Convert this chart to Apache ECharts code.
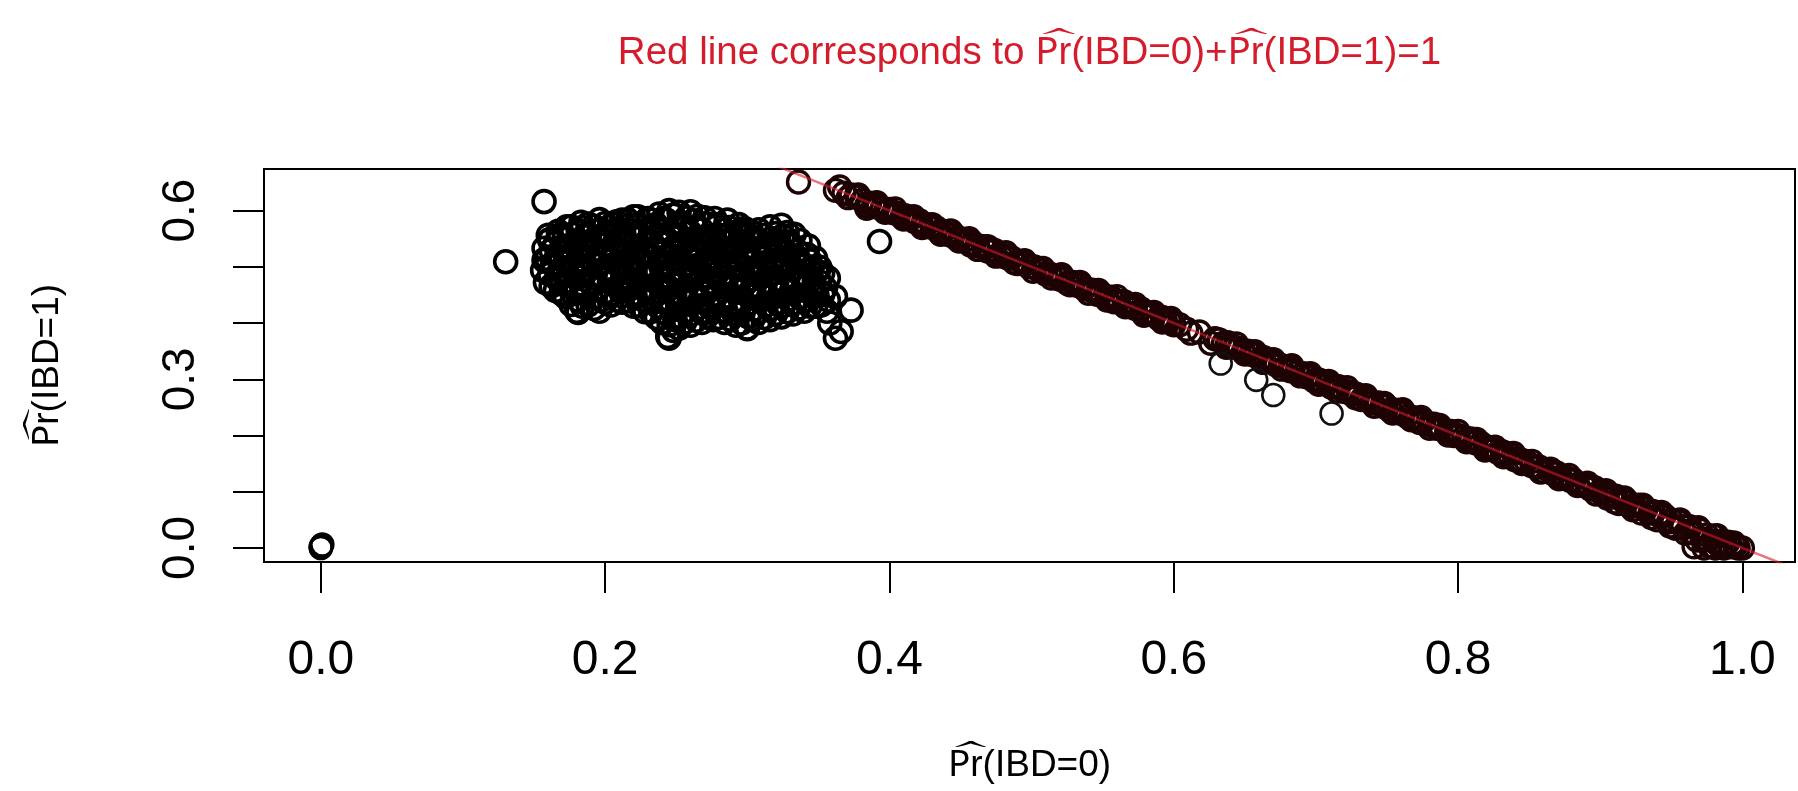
<!DOCTYPE html>
<html><head><meta charset="utf-8">
<script src="https://cdn.jsdelivr.net/npm/echarts@6/dist/echarts.min.js"></script>
<style>html,body{margin:0;padding:0;background:#fff}#chart{width:1798px;height:791px}</style>
</head><body><div id="chart"></div>
<script>
const titleText = 'Red line corresponds to P\u1DCDr(IBD=0)+P\u1DCDr(IBD=1)=1';
const xName = 'P\u1DCDr(IBD=0)';
const yName = 'P\u1DCDr(IBD=1)';
const xTicks = [0, 0.2, 0.4, 0.6, 0.8, 1.0];
const yTicks = [0, 0.1, 0.2, 0.3, 0.4, 0.5, 0.6];
const yLabels = [0, 0.3, 0.6];

const zeroPts = [[0,0],[0,0.003],[0.001,0.006],[0,0.001]];

const cloudPts = [
[0.158,0.472],[0.156,0.494],[0.159,0.515],[0.157,0.533],[0.160,0.556],
[0.165,0.458],[0.166,0.479],[0.164,0.501],[0.166,0.520],[0.165,0.542],[0.167,0.563],
[0.172,0.447],[0.173,0.466],[0.171,0.488],[0.172,0.507],[0.174,0.529],[0.171,0.550],[0.173,0.571],
[0.180,0.421],[0.181,0.441],[0.179,0.461],[0.181,0.482],[0.180,0.503],[0.182,0.524],[0.179,0.545],[0.181,0.565],[0.183,0.579],
[0.188,0.432],[0.187,0.452],[0.189,0.473],[0.188,0.494],[0.190,0.514],[0.187,0.535],[0.189,0.556],[0.188,0.576],
[0.196,0.421],[0.197,0.441],[0.195,0.462],[0.197,0.483],[0.196,0.503],[0.198,0.524],[0.195,0.545],[0.197,0.566],[0.196,0.584],
[0.204,0.432],[0.205,0.452],[0.203,0.473],[0.205,0.493],[0.204,0.514],[0.206,0.535],[0.203,0.555],[0.205,0.576],
[0.212,0.437],[0.211,0.457],[0.213,0.478],[0.212,0.498],[0.214,0.519],[0.211,0.540],[0.213,0.561],[0.212,0.583],
[0.220,0.430],[0.221,0.450],[0.219,0.471],[0.221,0.492],[0.220,0.512],[0.222,0.533],[0.219,0.554],[0.221,0.574],[0.220,0.589],
[0.228,0.420],[0.227,0.441],[0.229,0.461],[0.228,0.482],[0.230,0.503],[0.227,0.523],[0.229,0.544],[0.228,0.565],[0.230,0.586],
[0.236,0.410],[0.237,0.430],[0.235,0.451],[0.237,0.472],[0.236,0.492],[0.238,0.513],[0.235,0.534],[0.237,0.554],[0.236,0.575],[0.238,0.594],
[0.244,0.376],[0.245,0.397],[0.243,0.418],[0.245,0.438],[0.244,0.459],[0.246,0.480],[0.243,0.500],[0.245,0.521],[0.244,0.542],[0.246,0.562],[0.243,0.583],[0.245,0.600],
[0.252,0.391],[0.253,0.411],[0.251,0.432],[0.253,0.453],[0.252,0.473],[0.254,0.494],[0.251,0.515],[0.253,0.535],[0.252,0.556],[0.254,0.577],[0.252,0.597],
[0.260,0.396],[0.261,0.416],[0.259,0.437],[0.261,0.458],[0.260,0.478],[0.262,0.499],[0.259,0.520],[0.261,0.540],[0.260,0.561],[0.262,0.582],[0.260,0.598],
[0.268,0.401],[0.269,0.421],[0.267,0.442],[0.269,0.463],[0.268,0.483],[0.270,0.504],[0.267,0.525],[0.269,0.545],[0.268,0.566],[0.270,0.587],
[0.276,0.406],[0.275,0.426],[0.277,0.447],[0.276,0.468],[0.278,0.488],[0.275,0.509],[0.277,0.530],[0.276,0.550],[0.278,0.571],[0.277,0.586],
[0.284,0.401],[0.285,0.421],[0.283,0.442],[0.285,0.463],[0.284,0.483],[0.286,0.504],[0.283,0.525],[0.285,0.545],[0.284,0.566],[0.286,0.583],
[0.292,0.396],[0.293,0.416],[0.291,0.437],[0.293,0.458],[0.292,0.478],[0.294,0.499],[0.291,0.520],[0.293,0.540],[0.292,0.561],[0.294,0.575],
[0.300,0.391],[0.301,0.411],[0.299,0.432],[0.301,0.453],[0.300,0.473],[0.302,0.494],[0.299,0.515],[0.301,0.535],[0.300,0.556],[0.298,0.568],
[0.308,0.401],[0.309,0.421],[0.307,0.442],[0.309,0.463],[0.308,0.483],[0.310,0.504],[0.307,0.525],[0.309,0.545],[0.308,0.566],
[0.316,0.406],[0.317,0.426],[0.315,0.447],[0.317,0.468],[0.316,0.488],[0.318,0.509],[0.315,0.530],[0.317,0.550],[0.316,0.571],
[0.324,0.411],[0.325,0.431],[0.323,0.452],[0.325,0.473],[0.324,0.493],[0.326,0.514],[0.323,0.535],[0.325,0.555],[0.324,0.574],
[0.332,0.416],[0.333,0.436],[0.331,0.457],[0.333,0.478],[0.332,0.498],[0.334,0.519],[0.331,0.540],[0.333,0.558],
[0.340,0.421],[0.341,0.441],[0.339,0.462],[0.341,0.483],[0.340,0.503],[0.342,0.522],[0.343,0.537],
[0.348,0.430],[0.349,0.450],[0.347,0.471],[0.349,0.492],[0.351,0.499],[0.348,0.515],
[0.356,0.421],[0.357,0.441],[0.355,0.462],[0.357,0.480],[0.358,0.400],
[0.362,0.447],[0.362,0.373],[0.373,0.423],[0.366,0.385],[0.297,0.566],[0.300,0.390],[0.245,0.373],
[0.181,0.419],[0.170,0.453],[0.157,0.512],[0.161,0.548],[0.157,0.616],[0.130,0.509],[0.393,0.545]
];

const cloudPts2 = [
[0.162,0.466],[0.161,0.487],[0.163,0.506],[0.162,0.529],[0.161,0.548],
[0.169,0.453],[0.170,0.471],[0.168,0.494],[0.169,0.513],[0.170,0.536],[0.168,0.555],
[0.176,0.433],[0.177,0.452],[0.175,0.474],[0.177,0.493],[0.176,0.516],[0.175,0.535],[0.177,0.558],[0.176,0.571],
[0.184,0.430],[0.185,0.452],[0.183,0.470],[0.185,0.493],[0.184,0.512],[0.183,0.535],[0.185,0.554],[0.184,0.570],
[0.192,0.426],[0.193,0.446],[0.191,0.468],[0.193,0.487],[0.192,0.510],[0.191,0.529],[0.193,0.551],[0.192,0.572],
[0.200,0.437],[0.201,0.456],[0.199,0.479],[0.201,0.497],[0.200,0.520],[0.199,0.539],[0.201,0.562],[0.200,0.577],
[0.208,0.441],[0.209,0.463],[0.207,0.482],[0.209,0.504],[0.208,0.523],[0.207,0.546],[0.209,0.565],[0.208,0.580],
[0.216,0.440],[0.217,0.460],[0.215,0.482],[0.217,0.501],[0.216,0.524],[0.215,0.543],[0.217,0.565],[0.216,0.583],
[0.224,0.431],[0.225,0.450],[0.223,0.472],[0.225,0.491],[0.224,0.514],[0.223,0.533],[0.225,0.555],[0.224,0.574],[0.223,0.589],
[0.232,0.420],[0.233,0.442],[0.231,0.460],[0.233,0.483],[0.232,0.502],[0.231,0.524],[0.233,0.543],[0.232,0.566],[0.231,0.584],
[0.240,0.401],[0.241,0.419],[0.239,0.442],[0.241,0.461],[0.240,0.483],[0.239,0.502],[0.241,0.525],[0.240,0.543],[0.239,0.566],[0.241,0.586],
[0.248,0.387],[0.249,0.406],[0.247,0.429],[0.249,0.447],[0.248,0.470],[0.247,0.489],[0.249,0.511],[0.248,0.530],[0.247,0.553],[0.249,0.571],[0.248,0.592],
[0.256,0.402],[0.257,0.420],[0.255,0.443],[0.257,0.462],[0.256,0.484],[0.255,0.503],[0.257,0.526],[0.256,0.544],[0.255,0.567],[0.257,0.587],
[0.264,0.405],[0.265,0.427],[0.263,0.446],[0.265,0.469],[0.264,0.487],[0.263,0.510],[0.265,0.529],[0.264,0.551],[0.263,0.570],[0.265,0.590],
[0.272,0.412],[0.273,0.430],[0.271,0.453],[0.273,0.472],[0.272,0.494],[0.271,0.513],[0.273,0.536],[0.272,0.554],[0.271,0.577],
[0.280,0.410],[0.281,0.432],[0.279,0.451],[0.281,0.474],[0.280,0.492],[0.279,0.515],[0.281,0.534],[0.280,0.556],[0.279,0.575],
[0.288,0.407],[0.289,0.425],[0.287,0.448],[0.289,0.467],[0.288,0.489],[0.287,0.508],[0.289,0.531],[0.288,0.549],[0.287,0.570],
[0.296,0.400],[0.297,0.422],[0.295,0.441],[0.297,0.464],[0.296,0.482],[0.295,0.505],[0.297,0.524],[0.296,0.546],[0.295,0.564],
[0.304,0.407],[0.305,0.425],[0.303,0.448],[0.305,0.467],[0.304,0.489],[0.303,0.508],[0.305,0.531],[0.304,0.549],[0.303,0.562],
[0.312,0.410],[0.313,0.432],[0.311,0.451],[0.313,0.474],[0.312,0.492],[0.311,0.515],[0.313,0.534],[0.312,0.556],
[0.320,0.417],[0.321,0.435],[0.319,0.458],[0.321,0.477],[0.320,0.499],[0.319,0.518],[0.321,0.541],[0.320,0.559],
[0.328,0.420],[0.329,0.442],[0.327,0.461],[0.329,0.484],[0.328,0.502],[0.327,0.525],[0.329,0.544],[0.328,0.561],
[0.336,0.427],[0.337,0.445],[0.335,0.468],[0.337,0.487],[0.336,0.509],[0.335,0.528],[0.337,0.547],
[0.344,0.430],[0.345,0.452],[0.343,0.471],[0.345,0.494],[0.344,0.511],
[0.352,0.432],[0.353,0.451],[0.351,0.473],[0.353,0.489]
];

const diagPts = [
[0.336,0.651],[0.362,0.636],[0.368,0.631],[0.373,0.628],[0.377,0.624],[0.381,0.618],[0.384,0.604],[0.386,0.613],
[0.389,0.611],[0.392,0.606],[0.395,0.604],[0.398,0.600],
[0.400,0.602],[0.403,0.596],[0.406,0.595],[0.409,0.588],[0.411,0.591],[0.414,0.586],[0.418,0.580],[0.421,0.582],
[0.423,0.573],[0.426,0.575],[0.430,0.570],[0.433,0.569],[0.435,0.562],[0.438,0.563],[0.442,0.557],[0.445,0.558],
[0.447,0.551],[0.450,0.550],[0.454,0.548],[0.457,0.539],[0.459,0.542],[0.462,0.537],[0.466,0.536],[0.469,0.528],
[0.471,0.529],[0.474,0.529],[0.478,0.520],[0.481,0.520],[0.483,0.516],[0.486,0.516],[0.490,0.506],[0.493,0.508],
[0.495,0.505],[0.498,0.500],
[0.502,0.500],[0.505,0.494],[0.508,0.495],[0.510,0.487],[0.513,0.487],[0.517,0.484],[0.520,0.478],[0.522,0.480],
[0.525,0.471],[0.529,0.472],[0.532,0.467],[0.534,0.469],[0.537,0.461],[0.541,0.459],[0.544,0.458],[0.546,0.451],
[0.549,0.452],[0.553,0.446],[0.556,0.446],[0.558,0.438],[0.561,0.439],[0.565,0.438],[0.568,0.430],[0.570,0.431],
[0.573,0.426],[0.577,0.425],[0.580,0.417],[0.582,0.418],[0.585,0.416],[0.589,0.409],[0.592,0.410],[0.594,0.405],
[0.597,0.404],[0.600,0.397],
[0.604,0.397],[0.609,0.389],[0.612,0.382],[0.618,0.384],[0.626,0.364],[0.629,0.372],
[0.632,0.370],[0.635,0.364],[0.638,0.365],[0.640,0.358],[0.643,0.357],[0.646,0.355],[0.649,0.348],[0.652,0.350],
[0.655,0.344],[0.658,0.343],[0.661,0.335],[0.663,0.339],[0.667,0.332],[0.670,0.333],[0.672,0.326],[0.675,0.325],
[0.679,0.322],[0.682,0.315],[0.684,0.318],[0.687,0.312],[0.691,0.310],[0.694,0.304],[0.696,0.307],[0.699,0.297],
[0.702,0.299],[0.705,0.294],[0.708,0.294],[0.711,0.286],[0.713,0.287],[0.716,0.287],[0.720,0.278],[0.723,0.278],
[0.725,0.274],[0.728,0.274],[0.732,0.264],[0.735,0.266],[0.737,0.263],[0.740,0.258],[0.744,0.258],[0.747,0.252],
[0.749,0.254],[0.752,0.245],[0.756,0.245],[0.759,0.240],[0.761,0.241],[0.764,0.234],[0.768,0.232],[0.771,0.230],
[0.773,0.223],[0.776,0.226],[0.780,0.219],[0.783,0.220],[0.785,0.213],[0.788,0.213],[0.792,0.207],[0.795,0.207],
[0.797,0.200],[0.800,0.200],
[0.804,0.197],[0.807,0.191],[0.809,0.194],[0.812,0.187],[0.816,0.186],[0.819,0.177],[0.821,0.179],[0.824,0.177],
[0.828,0.170],[0.831,0.171],[0.833,0.166],[0.836,0.167],[0.840,0.157],[0.843,0.158],[0.845,0.154],[0.848,0.154],
[0.852,0.146],[0.855,0.145],[0.857,0.144],[0.860,0.136],[0.864,0.138],[0.867,0.132],[0.869,0.134],[0.872,0.126],
[0.876,0.125],[0.879,0.120],[0.881,0.121],[0.884,0.113],[0.888,0.112],[0.891,0.110],[0.893,0.105],[0.896,0.107],
[0.900,0.099],
[0.903,0.099],[0.905,0.089],[0.908,0.091],[0.911,0.092],[0.913,0.079],[0.916,0.084],[0.919,0.083],[0.921,0.074],
[0.924,0.075],[0.927,0.076],[0.929,0.062],[0.932,0.069],[0.935,0.062],[0.937,0.065],[0.940,0.050],[0.942,0.057],
[0.945,0.058],[0.948,0.046],[0.950,0.050],[0.953,0.035],[0.955,0.047],[0.958,0.038],[0.960,0.026],[0.963,0.038],
[0.965,0.027],[0.968,0.014],[0.970,0.032],[0.972,0.016],[0.975,0.023],[0.977,0.003],[0.980,0.021],[0.982,0.008],
[0.985,0.012],[0.987,0.000],[0.990,0.010],[0.992,0.002],[0.995,0.003],[0.997,0.000],[1.000,0.000],
[0.966,0.002],[0.973,0.000],[0.981,0.000]
];

const diagPts2 = [
[0.365,0.642],[0.371,0.623],[0.378,0.628],[0.384,0.609],[0.391,0.614],[0.397,0.597],[0.404,0.603],[0.410,0.585],
[0.417,0.589],[0.423,0.570],[0.430,0.575],[0.436,0.558],[0.443,0.564],[0.449,0.546],[0.456,0.550],[0.462,0.531],
[0.469,0.536],[0.475,0.519],[0.482,0.525],[0.488,0.507],[0.495,0.511],[0.501,0.492],[0.508,0.497],[0.514,0.480],
[0.521,0.486],[0.527,0.468],[0.534,0.472],[0.540,0.453],[0.547,0.458],[0.553,0.441],[0.560,0.447],[0.566,0.429],
[0.573,0.433],[0.579,0.414],[0.586,0.419],[0.592,0.402],[0.598,0.408],
[0.637,0.357],[0.644,0.363],[0.650,0.345],[0.657,0.349],[0.663,0.330],[0.670,0.335],[0.676,0.318],[0.683,0.324],
[0.689,0.306],[0.696,0.310],[0.702,0.291],[0.709,0.296],[0.715,0.279],[0.722,0.285],[0.728,0.267],[0.735,0.271],
[0.741,0.252],[0.748,0.257],[0.754,0.240],[0.761,0.246],[0.767,0.228],[0.774,0.232],[0.780,0.213],[0.787,0.218],
[0.793,0.201],[0.800,0.207],[0.806,0.189],[0.813,0.193],[0.819,0.174],[0.826,0.179],[0.832,0.162],[0.839,0.168],
[0.845,0.150],[0.852,0.154],[0.858,0.135],[0.865,0.140],[0.871,0.123],[0.878,0.129],[0.884,0.111],[0.891,0.115],
[0.897,0.096],[0.904,0.102],[0.910,0.082],[0.917,0.089],[0.923,0.068],[0.930,0.076],[0.936,0.054],[0.943,0.063],
[0.949,0.039],[0.956,0.050],[0.962,0.030],[0.969,0.036],[0.975,0.015],[0.982,0.022],[0.988,0.006],[0.994,0.009]
];

const offPts = [[0.633,0.328],[0.658,0.299],[0.670,0.272],[0.711,0.239]];

const redLine = [[0.30, 0.70], [1.06, -0.06]];

const FONT = "'Liberation Sans', 'DejaVu Sans', 'Noto Sans', sans-serif";
const ringStyle = (c, w) => ({ color: 'transparent', borderColor: c, borderWidth: w, opacity: 1 });

const chart = echarts.init(document.getElementById('chart'), null, { renderer: 'canvas' });
chart.setOption({
  animation: false,
  backgroundColor: '#ffffff',
  title: {
    text: titleText,
    left: 1029.5, top: 34, padding: 0,
    textAlign: 'center',
    textStyle: { color: '#d41c2c', fontSize: 38.5, fontWeight: 'normal', fontFamily: FONT }
  },
  grid: { left: 264, right: 3, top: 169, bottom: 229, show: true, borderColor: '#000', borderWidth: 2, backgroundColor: 'transparent' },
  xAxis: {
    type: 'value', min: -0.04, max: 1.037,
    axisLine: { show: false, onZero: false }, splitLine: { show: false },
    axisTick: { show: true, inside: false, length: 31, customValues: xTicks, lineStyle: { color: '#000', width: 2 } },
    axisLabel: { customValues: xTicks, formatter: v => v.toFixed(1), fontSize: 48, color: '#000', margin: 75, fontFamily: FONT },
    name: xName, nameLocation: 'middle', nameGap: 185,
    nameTextStyle: { fontSize: 37, color: '#000', fontFamily: FONT }
  },
  yAxis: {
    type: 'value', min: -0.025, max: 0.674,
    axisLine: { show: false, onZero: false }, splitLine: { show: false },
    axisTick: { show: true, inside: false, length: 31, customValues: yTicks, lineStyle: { color: '#000', width: 2 } },
    axisLabel: { customValues: yLabels, rotate: 90, formatter: v => v.toFixed(1), fontSize: 46, color: '#000', margin: 60, fontFamily: FONT },
    name: yName, nameLocation: 'middle', nameGap: 198,
    nameTextStyle: { fontSize: 37, color: '#000', fontFamily: FONT }
  },
  series: [
    { name: 'zero', type: 'scatter', data: zeroPts, symbol: 'circle', symbolSize: 22, itemStyle: ringStyle('#000', 2.6), z: 2 },
    { name: 'cloud', type: 'scatter', data: cloudPts, symbol: 'circle', symbolSize: 22, itemStyle: ringStyle('#000', 3.6), z: 2 },
    { name: 'cloud2', type: 'scatter', data: cloudPts2, symbol: 'circle', symbolSize: 22, itemStyle: ringStyle('#000', 3.6), z: 2 },
    { name: 'diag', type: 'scatter', data: diagPts, symbol: 'circle', symbolSize: 22, itemStyle: ringStyle('#1e0305', 3.4), z: 2 },
    { name: 'diag2', type: 'scatter', data: diagPts2, symbol: 'circle', symbolSize: 22, itemStyle: ringStyle('#1e0305', 3.4), z: 2 },
    { name: 'off', type: 'scatter', data: offPts, symbol: 'circle', symbolSize: 22, itemStyle: ringStyle('#111', 2.6), z: 2 },
    { name: 'redline', type: 'line', data: redLine, showSymbol: false, clip: true,
      lineStyle: { color: '#d41c2c', width: 2.5, opacity: 0.6 }, z: 5 }
  ]
});
</script>
</body></html>
